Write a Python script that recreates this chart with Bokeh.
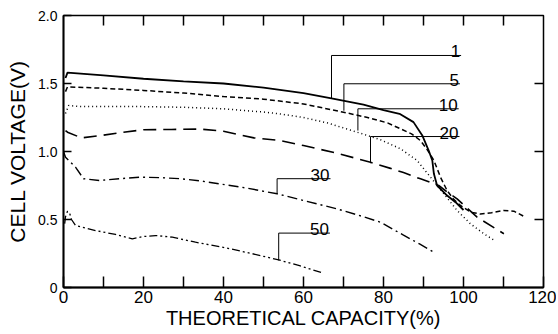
from bokeh.plotting import figure
from bokeh.models import FixedTicker, Range1d
from bokeh.embed import file_html
from bokeh.resources import INLINE
from bokeh.core.properties import value

# ---- data ----
cap_1 = [0.5, 1, 10, 20, 30, 40, 50, 60, 67, 75, 80, 84, 87.5, 89.7, 91.3, 92.2, 92.6, 93.4, 95.9, 98, 100]
v_1 = [1.54, 1.58, 1.56, 1.535, 1.515, 1.50, 1.47, 1.43, 1.39, 1.345, 1.305, 1.277, 1.216, 1.118, 1.007, 0.934, 0.836, 0.75, 0.676, 0.627, 0.57]

cap_5 = [0.5, 1, 10, 20, 30, 40, 50, 60, 70, 76, 81, 84.25, 87, 89.25, 91, 92.6, 94.25, 95.9, 97.5, 99.25, 101.75, 104.25, 107, 110, 112.6, 115.5]
v_5 = [1.44, 1.475, 1.465, 1.449, 1.43, 1.404, 1.385, 1.35, 1.289, 1.25, 1.21, 1.167, 1.13, 1.08, 1.01, 0.934, 0.811, 0.713, 0.65, 0.603, 0.554, 0.54, 0.55, 0.566, 0.561, 0.517]

cap_10 = [0.5, 1.3, 4.25, 10, 20, 30, 40, 50, 54, 60, 66, 73.4, 79.25, 84.25, 88.4, 91.75, 95.1, 98.4, 101.75, 105.1, 108]
v_10 = [1.28, 1.338, 1.331, 1.33, 1.33, 1.325, 1.314, 1.29, 1.277, 1.25, 1.21, 1.142, 1.086, 1.02, 0.934, 0.811, 0.689, 0.566, 0.468, 0.395, 0.341]

cap_20 = [0.5, 1, 4.5, 10, 15, 20, 27, 34, 40, 47.6, 54, 60, 68, 76.75, 81.75, 85, 89.25, 93.8, 96, 98.4, 103.4, 110.1]
v_20 = [1.154, 1.142, 1.10, 1.12, 1.142, 1.16, 1.162, 1.165, 1.149, 1.10, 1.081, 1.044, 0.99, 0.921, 0.876, 0.845, 0.799, 0.75, 0.70, 0.652, 0.517, 0.395]

cap_30 = [0, 0.5, 3, 5, 9, 14, 19, 24, 29, 34, 39, 46, 53.4, 60, 68.4, 75, 79.25, 85, 89, 92.6]
v_30 = [1.0, 0.958, 0.885, 0.80, 0.787, 0.80, 0.811, 0.808, 0.80, 0.785, 0.762, 0.73, 0.689, 0.64, 0.578, 0.52, 0.48, 0.385, 0.32, 0.26]

cap_50 = [0.3, 0.5, 1, 1.5, 2, 3, 8, 13, 17.2, 20, 23, 27.2, 33, 40.5, 47, 53.8, 59, 64.5]
v_50 = [0.47, 0.52, 0.56, 0.55, 0.50, 0.456, 0.419, 0.39, 0.358, 0.375, 0.382, 0.37, 0.333, 0.292, 0.25, 0.203, 0.16, 0.11]

# rate labels with leader lines
rate_labels = ["1", "5", "10", "20", "30", "50"]
lead_x = [67.0, 70.1, 73.6, 76.75, 53.4, 53.8]
lead_y_curve = [1.39, 1.30, 1.154, 0.914, 0.689, 0.199]
lead_y_top = [1.706, 1.498, 1.314, 1.11, 0.80, 0.40]
lead_x_end = [99.4, 99.1, 98.8, 99.0, 66.75, 66.6]

x_ticks = [0, 20, 40, 60, 80, 100, 120]
x_minor = [10, 30, 50, 70, 90, 110]
x_tick_labels = ["0", "20", "40", "60", "80", "100", "120"]
y_ticks = [0, 0.5, 1.0, 1.5, 2.0]
y_tick_labels = ["0", "0.5", "1.0", "1.5", "2.0"]

FONT = "Liberation Sans"
X_MIN, X_MAX = x_ticks[0], x_ticks[-1]
Y_MIN, Y_MAX = y_ticks[0], y_ticks[-1]

W, H = 556, 332
BL, BR, BT, BB = 63, 13, 15, 45
FRAME_W, FRAME_H = W - BL - BR, H - BT - BB

p = figure(width=W, height=H, output_backend="svg", toolbar_location=None,
           x_range=Range1d(X_MIN, X_MAX), y_range=Range1d(Y_MIN, Y_MAX),
           min_border_left=BL, min_border_right=BR, min_border_top=BT, min_border_bottom=BB)
p.xgrid.visible = False
p.ygrid.visible = False
p.outline_line_color = "black"
p.outline_line_width = 1.5
p.background_fill_color = "white"
p.border_fill_color = "white"

# curves
styles = [
    (cap_1, v_1, "solid", 1.8),
    (cap_5, v_5, "5 3", 1.5),
    (cap_10, v_10, "1 3", 1.5),
    (cap_20, v_20, "13 7", 1.6),
    (cap_30, v_30, "10 4 2 4", 1.4),
    (cap_50, v_50, "8 3 2 3 2 3", 1.3),
]
for xs, ys, dash, w in styles:
    p.line(xs, ys, line_color="black", line_width=w, line_dash=dash)

# leader lines and labels
p.segment(x0=lead_x, y0=lead_y_curve, x1=lead_x, y1=lead_y_top, line_color="black", line_width=1)
p.segment(x0=lead_x, y0=lead_y_top, x1=lead_x_end, y1=lead_y_top, line_color="black", line_width=1)
p.text(x=lead_x_end, y=lead_y_top, text=rate_labels, text_font=value(FONT), text_font_size="17px",
       text_align="right", text_baseline="alphabetic", x_offset=-1, y_offset=-4, text_color="black")

# inward ticks on the top and right frame edges (tick lengths in pixels converted to data units)
top_ticks = [t for t in sorted(x_ticks + x_minor) if X_MIN < t < X_MAX]
right_ticks = [t for t in y_ticks if Y_MIN < t < Y_MAX]
top_len = 10 * (Y_MAX - Y_MIN) / FRAME_H
right_len = 9 * (X_MAX - X_MIN) / FRAME_W
p.segment(x0=top_ticks, y0=[Y_MAX] * len(top_ticks), x1=top_ticks,
          y1=[Y_MAX - top_len] * len(top_ticks), line_color="black", line_width=1.5)
p.segment(x0=[X_MAX] * len(right_ticks), y0=right_ticks, x1=[X_MAX - right_len] * len(right_ticks),
          y1=right_ticks, line_color="black", line_width=1.5)

# axes
xt = FixedTicker(ticks=x_ticks, minor_ticks=x_minor)
yt = FixedTicker(ticks=y_ticks, minor_ticks=[])

def style_axis(ax, tick_len):
    ax.axis_line_color = "black"
    ax.axis_line_width = 1.8
    ax.major_tick_in = tick_len
    ax.major_tick_out = 0
    ax.minor_tick_in = tick_len
    ax.minor_tick_out = 0
    ax.major_tick_line_width = 1.5
    ax.minor_tick_line_width = 1.5
    ax.major_tick_line_color = "black"
    ax.minor_tick_line_color = "black"

xa = p.xaxis[0]
xa.ticker = xt
style_axis(xa, 11)
xa.major_label_overrides = {t: s for t, s in zip(x_ticks, x_tick_labels)}
xa.major_label_text_font = FONT
xa.major_label_text_font_size = "17px"
xa.major_label_text_color = "black"
xa.major_label_standoff = 3
xa.axis_label = "THEORETICAL CAPACITY(%)"
xa.axis_label_text_font = FONT
xa.axis_label_text_font_size = "20px"
xa.axis_label_text_font_style = "normal"
xa.axis_label_text_color = "black"
xa.axis_label_standoff = 1

ya = p.yaxis[0]
ya.ticker = yt
style_axis(ya, 8)
ya.major_label_overrides = {t: s for t, s in zip(y_ticks, y_tick_labels)}
ya.major_label_text_font = FONT
ya.major_label_text_font_size = "14px"
ya.major_label_text_color = "black"
ya.major_label_standoff = 6
ya.axis_label = "CELL VOLTAGE(V)"
ya.axis_label_text_font = FONT
ya.axis_label_text_font_size = "21px"
ya.axis_label_text_font_style = "normal"
ya.axis_label_text_color = "black"
ya.axis_label_standoff = 6

open("out.html", "w").write(file_html(p, INLINE))
